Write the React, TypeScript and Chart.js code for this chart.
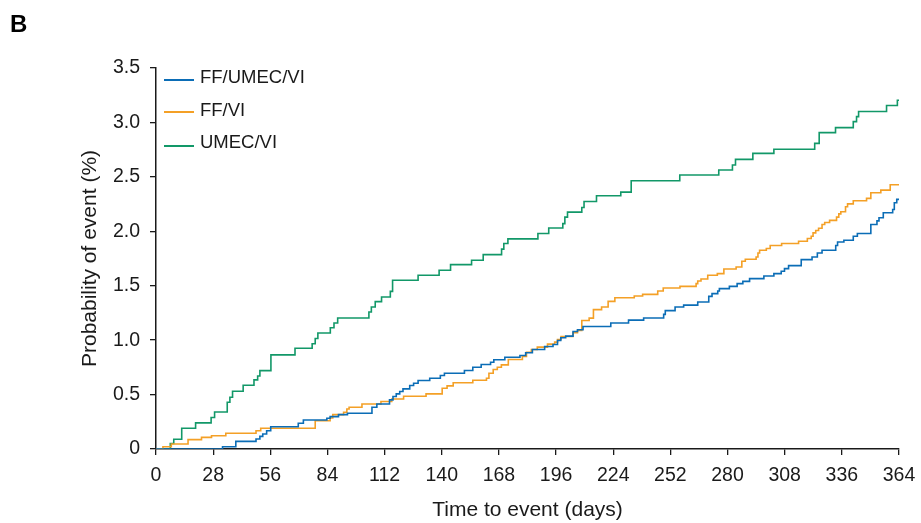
import React, { useEffect, useRef } from 'react';
import { Chart, registerables } from 'chart.js';

Chart.register(...registerables);

// ---- data ----
const panelLabel = 'B';
const xAxisTitle = 'Time to event (days)';
const yAxisTitle = 'Probability of event (%)';
const seriesNames = ['FF/UMEC/VI', 'FF/VI', 'UMEC/VI'];
const xTickValues = [0, 28, 56, 84, 112, 140, 168, 196, 224, 252, 280, 308, 336, 364];
const yTickValues = [0, 0.5, 1.0, 1.5, 2.0, 2.5, 3.0, 3.5];

const ffUmecViDays = [0, 32.6, 39.1, 49, 50.9, 52.3, 54.2, 56.2, 69.7, 72.2, 83.7, 85.3, 89.4, 93.8, 105.8, 108.2, 114.4, 116.1, 117.7, 119.4, 121, 124.3, 126.2, 128.4, 134.1, 139.3, 141.3, 151.1, 155.2, 159.3, 163.9, 165.5, 170.9, 178.3, 181.1, 184.4, 190.4, 194.5, 196.7, 198.3, 200.7, 204.3, 206.5, 209.2, 222.8, 231.5, 238.9, 248.7, 249.5, 254.3, 258.5, 265.4, 270.8, 272.4, 275.2, 276, 280.9, 284.7, 287.5, 290.8, 297.8, 302.7, 306.3, 307.9, 309.9, 316.1, 321.4, 324, 326.3, 333, 333.9, 337, 341.6, 343.6, 350.2, 353.2, 354.2, 356.3, 360.9, 361.7, 362.9, 364];
const ffUmecViProb = [0, 0.02, 0.07, 0.092, 0.116, 0.138, 0.168, 0.205, 0.236, 0.267, 0.282, 0.297, 0.316, 0.328, 0.383, 0.414, 0.451, 0.482, 0.506, 0.528, 0.552, 0.583, 0.604, 0.629, 0.65, 0.675, 0.696, 0.721, 0.751, 0.776, 0.797, 0.82, 0.843, 0.859, 0.884, 0.914, 0.942, 0.96, 0.997, 1.022, 1.037, 1.08, 1.096, 1.126, 1.157, 1.184, 1.203, 1.237, 1.271, 1.304, 1.322, 1.35, 1.402, 1.427, 1.451, 1.473, 1.494, 1.519, 1.54, 1.565, 1.589, 1.611, 1.633, 1.657, 1.685, 1.74, 1.764, 1.801, 1.826, 1.87, 1.902, 1.918, 1.955, 1.98, 2.062, 2.096, 2.124, 2.17, 2.2, 2.262, 2.293, 2.293];

const ffViDays = [0, 3.4, 7.5, 15.7, 22.3, 27.2, 34.2, 49, 51.3, 78, 85.3, 86.6, 91.9, 93.5, 94.6, 100.9, 110.2, 115.5, 121.3, 132.3, 140.2, 142.6, 145.6, 155.2, 161.9, 163.1, 165.2, 167.2, 169.2, 172.6, 179.5, 181.5, 183.9, 186.8, 191.8, 195.3, 196.7, 198.4, 204.3, 206.5, 208.6, 212.2, 214.3, 218.3, 221.5, 224.8, 234.3, 238.4, 245.8, 248.5, 256.7, 264.6, 265.4, 267, 270.3, 275, 278.2, 284.2, 287, 288.7, 294, 294.9, 295.7, 299, 300.9, 306.5, 314.8, 319.1, 321, 321.9, 323.2, 324.6, 326.3, 327.6, 330, 333.4, 334.5, 335.5, 337.8, 338.8, 341.6, 348.1, 350.2, 355.1, 359.7, 364];
const ffViProb = [0, 0.021, 0.046, 0.086, 0.107, 0.122, 0.144, 0.168, 0.19, 0.26, 0.285, 0.316, 0.337, 0.368, 0.383, 0.414, 0.436, 0.46, 0.484, 0.506, 0.558, 0.58, 0.608, 0.632, 0.65, 0.696, 0.73, 0.751, 0.773, 0.822, 0.85, 0.889, 0.914, 0.936, 0.963, 0.982, 1.006, 1.034, 1.068, 1.09, 1.18, 1.202, 1.28, 1.304, 1.356, 1.39, 1.405, 1.42, 1.451, 1.479, 1.494, 1.519, 1.543, 1.562, 1.596, 1.611, 1.654, 1.672, 1.725, 1.743, 1.764, 1.801, 1.826, 1.842, 1.87, 1.888, 1.909, 1.934, 1.955, 1.985, 2.007, 2.028, 2.062, 2.081, 2.1, 2.13, 2.16, 2.179, 2.225, 2.252, 2.28, 2.302, 2.354, 2.378, 2.427, 2.427];

const umecViDays = [0, 7, 8.7, 12.6, 19.4, 27, 28.7, 34.9, 36.2, 37.5, 42.7, 48, 49.8, 50.9, 56.3, 68.1, 76.5, 78, 79.3, 85.4, 87.2, 89, 104.3, 105.5, 107.4, 110.5, 114.8, 115.9, 128.4, 138.7, 144.3, 154.6, 160.3, 169.3, 170.4, 172.4, 187.1, 192.4, 199.3, 200.3, 201.6, 208.6, 209.7, 215.8, 227.7, 232.8, 256.6, 275.7, 282.4, 283.9, 292.4, 302.7, 322.7, 324.9, 332.9, 341.6, 343.2, 344.2, 357.9, 363.2, 364];
const umecViProb = [0, 0.05, 0.09, 0.19, 0.24, 0.29, 0.34, 0.43, 0.475, 0.53, 0.585, 0.635, 0.67, 0.72, 0.865, 0.925, 0.967, 1.015, 1.065, 1.114, 1.157, 1.203, 1.258, 1.304, 1.354, 1.396, 1.448, 1.55, 1.596, 1.642, 1.694, 1.734, 1.786, 1.836, 1.888, 1.93, 1.98, 2.03, 2.07, 2.13, 2.176, 2.219, 2.274, 2.326, 2.36, 2.464, 2.517, 2.563, 2.609, 2.661, 2.716, 2.753, 2.808, 2.906, 2.952, 3.007, 3.053, 3.1, 3.155, 3.204, 3.204];

const seriesDays = [ffUmecViDays, ffViDays, umecViDays];
const seriesProb = [ffUmecViProb, ffViProb, umecViProb];

// ---- styles ----
const COLORS = ['#0b6db6', '#f4a026', '#129868'];
const FONT = '"Liberation Sans", Arial, Helvetica, sans-serif';
const INK = '#1a1a1a';

export default function App() {
  const canvasRef = useRef<HTMLCanvasElement | null>(null);

  useEffect(() => {
    const canvas = canvasRef.current;
    if (!canvas) return;
    const chart = new Chart(canvas, {
      type: 'line',
      data: {
        datasets: seriesNames.map((name, i) => ({
          label: name,
          data: seriesDays[i].map((d, j) => ({ x: d, y: seriesProb[i][j] })),
          borderColor: COLORS[i],
          backgroundColor: COLORS[i],
          borderWidth: 1.6,
          pointRadius: 0,
          stepped: 'before' as const,
          fill: false,
        })),
      },
      options: {
        responsive: false,
        animation: false,
        devicePixelRatio: 1,
        layout: { padding: { left: 78, top: 68, right: 22, bottom: 0 } },
        plugins: {
          legend: { display: false },
          tooltip: { enabled: false },
        },
        scales: {
          x: {
            type: 'linear',
            min: 0,
            max: 364,
            afterBuildTicks: (s: any) => {
              s.ticks = xTickValues.map((v) => ({ value: v }));
            },
            afterFit: (s: any) => {
              s.height = 74;
              s.paddingRight = 0;
              s.paddingLeft = 0;
            },
            ticks: {
              color: INK,
              font: { family: FONT, size: 19.5 },
              padding: 9,
              maxRotation: 0,
              autoSkip: false,
            },
            grid: {
              drawOnChartArea: false,
              drawTicks: true,
              tickLength: 6,
              color: INK,
              lineWidth: 1.3,
            },
            border: { display: true, color: INK, width: 1.5 },
            title: {
              display: true,
              text: xAxisTitle,
              color: INK,
              font: { family: FONT, size: 21 },
              padding: { top: 0, bottom: 0 },
            },
          },
          y: {
            type: 'linear',
            min: 0,
            max: 3.5,
            afterBuildTicks: (s: any) => {
              s.ticks = yTickValues.map((v) => ({ value: v }));
            },
            afterFit: (s: any) => {
              s.width = 78;
              s.paddingTop = 0;
              s.paddingBottom = 0;
            },
            ticks: {
              color: INK,
              font: { family: FONT, size: 19.5 },
              padding: 10,
              callback: (v: any) => (Number(v) === 0 ? '0' : Number(v).toFixed(1)),
            },
            grid: {
              drawOnChartArea: false,
              drawTicks: true,
              tickLength: 6,
              color: INK,
              lineWidth: 1.3,
            },
            border: { display: true, color: INK, width: 1.5 },
            title: {
              display: true,
              text: yAxisTitle,
              color: INK,
              font: { family: FONT, size: 21 },
              padding: { top: 0, bottom: 0 },
            },
          },
        },
      },
    });
    return () => chart.destroy();
  }, []);

  const legendTops = [68.3, 100.9, 133.3];
  const lineYs = [79, 111, 145];

  return (
    <div style={{ position: 'absolute', left: 0, top: 0, width: 921, height: 523, background: '#fff', fontFamily: FONT }}>
      <canvas ref={canvasRef} width={921} height={523} style={{ display: 'block', width: 921, height: 523 }} />
      <div style={{ position: 'absolute', left: 10, top: 12, fontSize: 24, lineHeight: '24px', fontWeight: 'bold', color: '#000' }}>
        {panelLabel}
      </div>
      {seriesNames.map((name, i) => (
        <React.Fragment key={name}>
          <div
            style={{
              position: 'absolute',
              left: 164,
              top: lineYs[i],
              width: 30,
              height: 2,
              background: COLORS[i],
            }}
          />
          <div
            style={{
              position: 'absolute',
              left: 200,
              top: legendTops[i],
              fontSize: 18.5,
              lineHeight: '18.5px',
              color: INK,
              whiteSpace: 'nowrap',
            }}
          >
            {name}
          </div>
        </React.Fragment>
      ))}
    </div>
  );
}
